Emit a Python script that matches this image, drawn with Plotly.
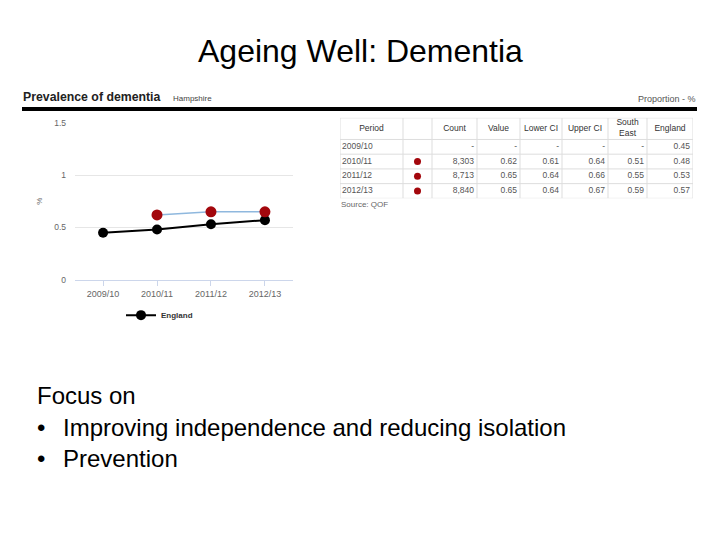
import plotly.graph_objects as go

W, H = 720, 540

periods = ["2009/10", "2010/11", "2011/12", "2012/13"]
hampshire_value = [None, 0.62, 0.65, 0.65]
england = [0.45, 0.48, 0.53, 0.57]
counts = ["-", "8,303", "8,713", "8,840"]
lower_ci = [None, 0.61, 0.64, 0.64]
upper_ci = [None, 0.64, 0.66, 0.67]
south_east = [None, 0.51, 0.55, 0.59]
table_headers = ["Period", "", "Count", "Value", "Lower CI", "Upper CI",
                 "South<br>East", "England"]
y_ticks = [0, 0.5, 1, 1.5]
y_tick_labels = ["0", "0.5", "1", "1.5"]

# table layout (style): column widths and row heights in pixels
col_widths = [63, 29, 45, 43, 42, 46, 39, 46]
col_align = ["left", "dot", "right", "right", "right", "right", "right", "right"]
header_h = 22
row_h = 15


def px(x):
    return x / W


def py(y):
    return 1 - y / H


def fmt(v):
    return "-" if v is None else f"{v:.2f}"


FONT = "Liberation Sans, Arial, sans-serif"
fig = go.Figure()

# ---- line chart ----
fig.add_trace(go.Scatter(
    x=periods, y=england, mode="lines+markers", name="England",
    line=dict(color="#000000", width=2),
    marker=dict(color="#000000", size=10),
    showlegend=True,
))
fig.add_trace(go.Scatter(
    x=periods, y=hampshire_value, mode="lines+markers", name="Hampshire",
    line=dict(color="#8fb8de", width=1.5),
    marker=dict(color="#a3070c", size=11),
    showlegend=False,
))

# ---- table drawn on its own axes ----
columns = [
    periods,
    None,
    counts,
    [fmt(v) for v in hampshire_value],
    [fmt(v) for v in lower_ci],
    [fmt(v) for v in upper_ci],
    [fmt(v) for v in south_east],
    [fmt(v) for v in england],
]
edges = [0]
for w in col_widths:
    edges.append(edges[-1] + w)
n_rows = len(periods)
total_h = header_h + n_rows * row_h
row_centers = [header_h + row_h * (i + 0.5) for i in range(n_rows)]

# header text
fig.add_trace(go.Scatter(
    x=[(edges[i] + edges[i + 1]) / 2 for i in range(len(col_widths))],
    y=[header_h / 2] * len(col_widths),
    text=table_headers, mode="text", textposition="middle center",
    textfont=dict(family=FONT, size=8.5, color="#333333"),
    xaxis="x2", yaxis="y2", showlegend=False, hoverinfo="skip",
))
# body text
for ci, col in enumerate(columns):
    if col is None:
        continue
    if col_align[ci] == "left":
        xs = [edges[ci] + 2] * n_rows
        pos = "middle right"
    else:
        xs = [edges[ci + 1] - 3] * n_rows
        pos = "middle left"
    fig.add_trace(go.Scatter(
        x=xs, y=row_centers, text=col, mode="text", textposition=pos,
        textfont=dict(family=FONT, size=8.5, color="#555555"),
        xaxis="x2", yaxis="y2", showlegend=False, hoverinfo="skip",
    ))
# red dots column
dot_rows = [row_centers[i] for i, v in enumerate(hampshire_value) if v is not None]
fig.add_trace(go.Scatter(
    x=[(edges[1] + edges[2]) / 2] * len(dot_rows), y=dot_rows, mode="markers",
    marker=dict(color="#a3070c", size=7),
    xaxis="x2", yaxis="y2", showlegend=False, hoverinfo="skip",
))

shapes = []
# grid lines of the table
for e in edges:
    shapes.append(dict(type="line", xref="x2", yref="y2", x0=e, x1=e, y0=0, y1=total_h,
                       line=dict(color="#dddddd", width=1)))
for yb in [0, header_h] + [header_h + row_h * (i + 1) for i in range(n_rows)]:
    shapes.append(dict(type="line", xref="x2", yref="y2", x0=0, x1=edges[-1], y0=yb, y1=yb,
                       line=dict(color="#dddddd", width=1)))
# thick black rule under the chart title
shapes.append(dict(type="rect", xref="paper", yref="paper",
                   x0=px(22), x1=px(697), y0=py(108), y1=py(104),
                   fillcolor="#000000", line=dict(width=0)))

tx0 = 340
ty0 = 115
fig.update_layout(
    width=W, height=H,
    margin=dict(l=0, r=0, t=0, b=0),
    paper_bgcolor="white", plot_bgcolor="white",
    showlegend=True,
    legend=dict(x=px(121), y=py(316), xanchor="left", yanchor="middle",
                orientation="h", bgcolor="rgba(0,0,0,0)",
                font=dict(family=FONT, size=8, color="#333333", weight="bold"),
                itemwidth=30),
    xaxis=dict(domain=[px(75), px(293)], range=[-0.52, 3.52],
               type="category", showgrid=False, zeroline=False,
               showline=True, linecolor="#ccd6eb", linewidth=1,
               ticks="outside", ticklen=5, tickcolor="#ccd6eb",
               tickfont=dict(family=FONT, size=9, color="#666666")),
    yaxis=dict(domain=[py(280), py(120)], range=[0, 1.5],
               tickvals=y_ticks, ticktext=y_tick_labels,
               showgrid=True, gridcolor="#e6e6e6", zeroline=False,
               showline=False, ticks="", ticklabelstandoff=8,
               tickfont=dict(family=FONT, size=8.5, color="#666666"),
               title=dict(text="%", font=dict(family=FONT, size=8, color="#666666"),
                          standoff=10)),
    xaxis2=dict(domain=[px(tx0), px(tx0 + edges[-1])], range=[0, edges[-1]],
                visible=False, anchor="y2", fixedrange=True),
    yaxis2=dict(domain=[py(ty0 + total_h), py(ty0)], range=[total_h, 0],
                visible=False, anchor="x2", fixedrange=True),
    font=dict(family=FONT),
    shapes=shapes,
)

anns = [
    dict(x=px(360), y=py(47), text="Ageing Well: Dementia", xanchor="center",
         yanchor="middle", font=dict(size=32, color="#000000")),
    dict(x=px(21), y=py(94), text="<b>Prevalence of dementia</b>", xanchor="left",
         yanchor="middle", font=dict(size=12.3, color="#222222")),
    dict(x=px(171), y=py(95), text="Hampshire", xanchor="left",
         yanchor="middle", font=dict(size=8, color="#444444")),
    dict(x=px(698), y=py(96), text="Proportion - %", xanchor="right",
         yanchor="middle", font=dict(size=9, color="#555555")),
    dict(x=px(339), y=py(203), text="Source: QOF", xanchor="left",
         yanchor="middle", font=dict(size=8, color="#666666")),
    dict(x=px(35), y=py(398), text="Focus on", xanchor="left",
         yanchor="middle", font=dict(size=24, color="#000000")),
    dict(x=px(35), y=py(430), text="•", xanchor="left",
         yanchor="middle", font=dict(size=24, color="#000000")),
    dict(x=px(61), y=py(430), text="Improving independence and reducing isolation",
         xanchor="left", yanchor="middle", font=dict(size=24, color="#000000")),
    dict(x=px(35), y=py(462), text="•", xanchor="left",
         yanchor="middle", font=dict(size=24, color="#000000")),
    dict(x=px(61), y=py(462), text="Prevention",
         xanchor="left", yanchor="middle", font=dict(size=24, color="#000000")),
]
for a in anns:
    a.update(xref="paper", yref="paper", showarrow=False)
    a["font"]["family"] = FONT
fig.update_layout(annotations=anns)

fig.write_html("out.html", config={"displayModeBar": False},
               post_script="document.body.style.margin='0';document.body.style.overflow='hidden';")
